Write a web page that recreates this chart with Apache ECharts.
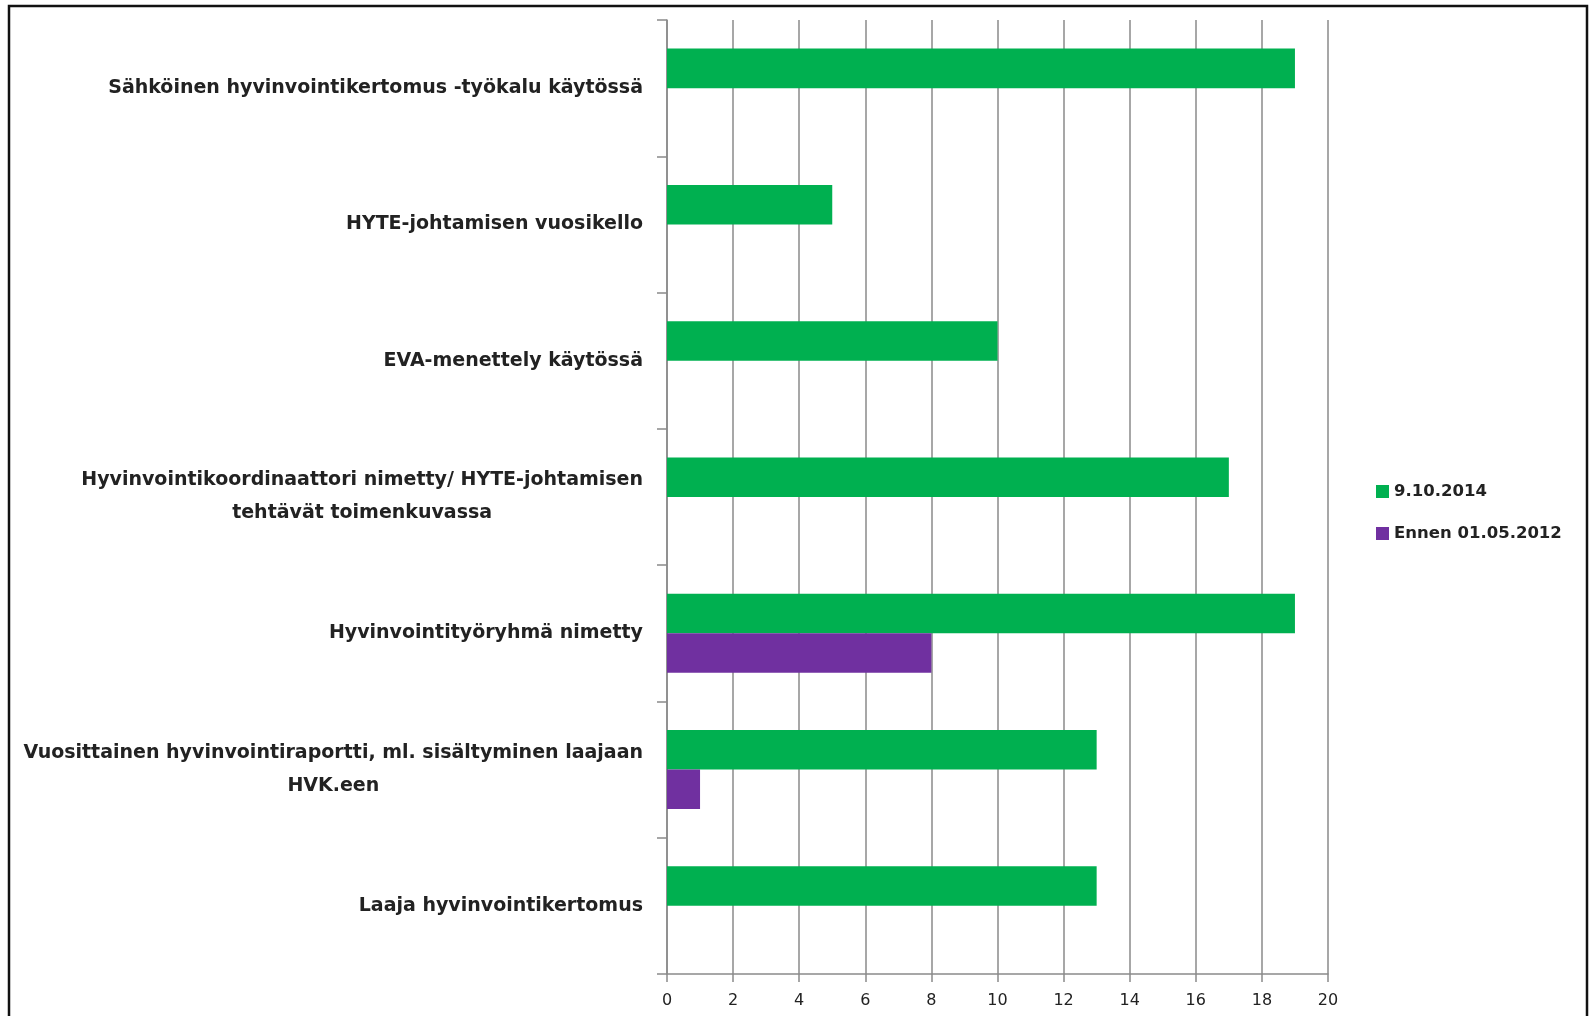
<!DOCTYPE html>
<html>
<head>
<meta charset="utf-8">
<script src="https://cdn.jsdelivr.net/npm/echarts@6/dist/echarts.min.js"></script>
<style>
html,body{margin:0;padding:0;background:#fff;}
#chart{width:1591px;height:1016px;}
</style>
</head>
<body>
<div id="chart"></div>
<script>
// Categories, bottom to top (as on the axis)
const categories = [
  'Laaja hyvinvointikertomus',
  'Vuosittainen hyvinvointiraportti, ml. sisältyminen laajaan\nHVK.een',
  'Hyvinvointityöryhmä nimetty',
  'Hyvinvointikoordinaattori nimetty/ HYTE-johtamisen\ntehtävät toimenkuvassa',
  'EVA-menettely käytössä',
  'HYTE-johtamisen vuosikello',
  'Sähköinen hyvinvointikertomus -työkalu käytössä'
];
const seriesNames = ['9.10.2014', 'Ennen 01.05.2012'];
const values2014 = [13, 13, 19, 17, 10, 5, 19];
const values2012 = [0, 1, 8, 0, 0, 0, 0];
const xTicks = [0, 2, 4, 6, 8, 10, 12, 14, 16, 18, 20];

const chart = echarts.init(document.getElementById('chart'));
const font = '"DejaVu Sans", sans-serif';
chart.setOption({
  animation: false,
  backgroundColor: '#fff',
  graphic: [{
    type: 'rect',
    shape: { x: 9, y: 6, width: 1578, height: 1030 },
    style: { fill: 'none', stroke: '#111', lineWidth: 2.5 },
    z: 100
  }],
  grid: { left: 667, right: 263, top: 20, bottom: 42, containLabel: false },
  legend: {
    orient: 'vertical',
    left: 1371,
    top: 478,
    itemWidth: 13,
    itemHeight: 13,
    itemGap: 25,
    icon: 'rect',
    data: seriesNames,
    textStyle: { fontFamily: font, fontWeight: 'bold', fontSize: 16.5, color: '#222', padding: [0, 0, 0, 0] }
  },
  xAxis: {
    type: 'value',
    min: xTicks[0],
    max: xTicks[xTicks.length - 1],
    interval: 2,
    axisLine: { show: true, lineStyle: { color: '#8a8a8a', width: 1.5 } },
    axisTick: { show: true, length: 8, lineStyle: { color: '#8a8a8a', width: 1.5 } },
    axisLabel: { fontFamily: font, fontSize: 16, color: '#222', margin: 19 },
    splitLine: { show: true, lineStyle: { color: '#8a8a8a', width: 1.5 } }
  },
  yAxis: {
    type: 'category',
    data: categories,
    axisLine: { show: true, onZero: false, lineStyle: { color: '#8a8a8a', width: 1.5 } },
    axisTick: { show: true, length: 10, lineStyle: { color: '#8a8a8a', width: 1.5 } },
    axisLabel: {
      margin: 24,
      formatter: function (v) { return '{a|' + v.split('\n').join('}\n{a|') + '}'; },
      rich: { a: { fontFamily: font, fontWeight: 'bold', fontSize: 19, color: '#222', align: 'center', lineHeight: 33 } }
    }
  },
  series: [
    { name: seriesNames[0], type: 'bar', data: values2014, itemStyle: { color: '#00B050' }, barGap: '0%', barCategoryGap: '42%' },
    { name: seriesNames[1], type: 'bar', data: values2012, itemStyle: { color: '#7030A0' }, barGap: '0%', barCategoryGap: '42%' }
  ]
});
</script>
</body>
</html>
